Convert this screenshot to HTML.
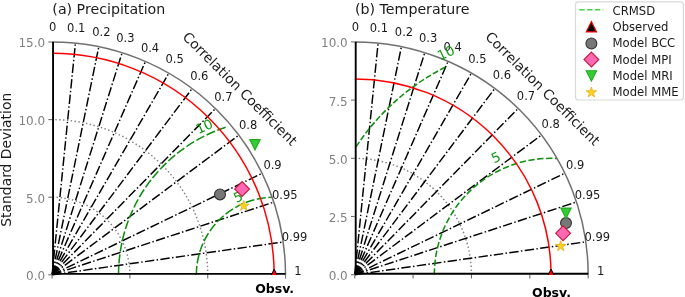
<!DOCTYPE html>
<html><head><meta charset="utf-8"><title>Taylor diagrams</title>
<style>html,body{margin:0;padding:0;background:#fff;width:685px;height:297px;overflow:hidden}</style>
</head><body>
<svg width="685" height="297" viewBox="0 0 685 297" style="display:block">
<g font-family="'DejaVu Sans', 'Liberation Sans', sans-serif">
<rect width="685" height="297" fill="#fff"/>
<text x="52.35" y="13.6" font-size="14.2" fill="#1a1a1a">(a) Precipitation</text>
<path d="M129.9,274.8 A77.8,77.6 0 0 0 52.1,197.2" fill="none" stroke="#808080" stroke-width="1.47" stroke-dasharray="1.46,2.4"/>
<path d="M207.7,274.8 A155.6,155.2 0 0 0 52.1,119.6" fill="none" stroke="#808080" stroke-width="1.47" stroke-dasharray="1.46,2.4"/>
<line x1="52.1" y1="274.8" x2="75.44" y2="43.17" stroke="#000" stroke-width="1.47" stroke-dasharray="9.41,2.35,1.47,2.35" stroke-dashoffset="-0.3"/>
<line x1="52.1" y1="274.8" x2="98.78" y2="46.7" stroke="#000" stroke-width="1.47" stroke-dasharray="9.41,2.35,1.47,2.35" stroke-dashoffset="-0.3"/>
<line x1="52.1" y1="274.8" x2="122.12" y2="52.72" stroke="#000" stroke-width="1.47" stroke-dasharray="9.41,2.35,1.47,2.35" stroke-dashoffset="-0.3"/>
<line x1="52.1" y1="274.8" x2="145.46" y2="61.44" stroke="#000" stroke-width="1.47" stroke-dasharray="9.41,2.35,1.47,2.35" stroke-dashoffset="-0.3"/>
<line x1="52.1" y1="274.8" x2="168.8" y2="73.19" stroke="#000" stroke-width="1.47" stroke-dasharray="9.41,2.35,1.47,2.35" stroke-dashoffset="-0.3"/>
<line x1="52.1" y1="274.8" x2="192.14" y2="88.56" stroke="#000" stroke-width="1.47" stroke-dasharray="9.41,2.35,1.47,2.35" stroke-dashoffset="-0.3"/>
<line x1="52.1" y1="274.8" x2="215.48" y2="108.55" stroke="#000" stroke-width="1.47" stroke-dasharray="9.41,2.35,1.47,2.35" stroke-dashoffset="-0.3"/>
<line x1="52.1" y1="274.8" x2="238.82" y2="135.12" stroke="#000" stroke-width="1.47" stroke-dasharray="9.41,2.35,1.47,2.35" stroke-dashoffset="-0.3"/>
<line x1="52.1" y1="274.8" x2="262.16" y2="173.32" stroke="#000" stroke-width="1.47" stroke-dasharray="9.41,2.35,1.47,2.35" stroke-dashoffset="-0.3"/>
<line x1="52.1" y1="274.8" x2="273.84" y2="202.11" stroke="#000" stroke-width="1.47" stroke-dasharray="9.41,2.35,1.47,2.35" stroke-dashoffset="-0.3"/>
<line x1="52.1" y1="274.8" x2="283.17" y2="241.96" stroke="#000" stroke-width="1.47" stroke-dasharray="9.41,2.35,1.47,2.35" stroke-dashoffset="-0.3"/>
<path d="M196.34,274.8 A77.8,77.6 0 0 1 272.17,197.23" fill="none" stroke="#0f8f0f" stroke-width="1.55" stroke-dasharray="9,2.6"/>
<path d="M118.54,274.8 A155.6,155.2 0 0 1 226.1,127.19" fill="none" stroke="#0f8f0f" stroke-width="1.55" stroke-dasharray="9,2.6"/>
<path d="M274.15,274.8 A222.05,221.47 0 0 0 52.1,53.33" fill="none" stroke="#ff0000" stroke-width="1.5"/>
<path d="M285.51,274.8 A233.41,232.8 0 0 0 52.1,42" fill="none" stroke="#707070" stroke-width="1.5"/>
<line x1="48.3" y1="274.8" x2="52.1" y2="274.8" stroke="#707070" stroke-width="1.1"/>
<line x1="52.1" y1="274.8" x2="52.1" y2="278.6" stroke="#707070" stroke-width="1.1"/>
<line x1="48.3" y1="197.2" x2="52.1" y2="197.2" stroke="#707070" stroke-width="1.1"/>
<line x1="129.9" y1="274.8" x2="129.9" y2="278.6" stroke="#707070" stroke-width="1.1"/>
<line x1="48.3" y1="119.6" x2="52.1" y2="119.6" stroke="#707070" stroke-width="1.1"/>
<line x1="207.7" y1="274.8" x2="207.7" y2="278.6" stroke="#707070" stroke-width="1.1"/>
<line x1="48.3" y1="42" x2="52.1" y2="42" stroke="#707070" stroke-width="1.1"/>
<line x1="285.51" y1="274.8" x2="285.51" y2="278.6" stroke="#707070" stroke-width="1.1"/>
<line x1="53.05" y1="273.85" x2="53.05" y2="42" stroke="#000" stroke-width="1.9"/>
<line x1="53.05" y1="273.85" x2="285.51" y2="273.85" stroke="#000" stroke-width="1.9"/>
<rect x="52.1" y="272.9" width="1.9" height="1.9" fill="#000"/>
<clipPath id="pao"><rect x="0" y="0" width="685" height="275.1"/></clipPath>
<polygon clip-path="url(#pao)" points="268.55,280.4 279.75,280.4 274.15,269.2" fill="#ff0000" stroke="#000" stroke-width="1"/>
<text x="45.1" y="280.27" font-size="12.0" fill="#808080" text-anchor="end">0.0</text>
<text x="45.1" y="202.67" font-size="12.0" fill="#808080" text-anchor="end">5.0</text>
<text x="45.1" y="125.07" font-size="12.0" fill="#808080" text-anchor="end">10.0</text>
<text x="45.1" y="47.47" font-size="12.0" fill="#808080" text-anchor="end">15.0</text>
<text x="52.71" y="30.95" font-size="11.5" fill="#1a1a1a" text-anchor="middle">0</text>
<text x="76.27" y="31.85" font-size="11.5" fill="#1a1a1a" text-anchor="middle">0.1</text>
<text x="101.32" y="35.95" font-size="11.5" fill="#1a1a1a" text-anchor="middle">0.2</text>
<text x="125.44" y="42.2" font-size="11.5" fill="#1a1a1a" text-anchor="middle">0.3</text>
<text x="150.04" y="51.5" font-size="11.5" fill="#1a1a1a" text-anchor="middle">0.4</text>
<text x="174.69" y="63.3" font-size="11.5" fill="#1a1a1a" text-anchor="middle">0.5</text>
<text x="199.29" y="79.5" font-size="11.5" fill="#1a1a1a" text-anchor="middle">0.6</text>
<text x="223.32" y="100.5" font-size="11.5" fill="#1a1a1a" text-anchor="middle">0.7</text>
<text x="248.12" y="128.55" font-size="11.5" fill="#1a1a1a" text-anchor="middle">0.8</text>
<text x="272.54" y="168.7" font-size="11.5" fill="#1a1a1a" text-anchor="middle">0.9</text>
<text x="284.83" y="198.95" font-size="11.5" fill="#1a1a1a" text-anchor="middle">0.95</text>
<text x="294.58" y="240.6" font-size="11.5" fill="#1a1a1a" text-anchor="middle">0.99</text>
<text x="297.91" y="275.1" font-size="11.5" fill="#1a1a1a" text-anchor="middle">1</text>
<text transform="translate(238,196.6) rotate(-25)" y="4.92" font-size="13.5" fill="#119911" text-anchor="middle">5</text>
<text transform="translate(204.2,126.2) rotate(-25)" y="4.92" font-size="13.5" fill="#119911" text-anchor="middle">10</text>
<text transform="translate(239.9,88.85) rotate(44.8)" y="4.6" font-size="13.8" fill="#1a1a1a" text-anchor="middle">Correlation Coefficient</text>
<circle cx="220" cy="194.4" r="5.45" fill="#777777" stroke="#333333" stroke-width="1.1"/>
<polygon points="242.1,181.6 249.5,189 242.1,196.4 234.7,189" fill="#ff69b4" stroke="#c8173c" stroke-width="1.1"/>
<polygon points="249.8,139.6 260.2,139.6 255,150" fill="#33cc33" stroke="#22aa22" stroke-width="1.1"/>
<polygon points="243.8,200.4 242.57,204.2 238.57,204.2 241.8,206.55 240.57,210.35 243.8,208 247.03,210.35 245.8,206.55 249.03,204.2 245.03,204.2" fill="#ffd21f" stroke="#e6b422" stroke-width="0.9"/>
<text x="274.6" y="292.5" font-size="12.5" font-weight="bold" fill="#000" text-anchor="middle">Obsv.</text>
<text x="355" y="13.6" font-size="14.2" fill="#1a1a1a">(b) Temperature</text>
<path d="M471.45,274.7 A116.7,116.4 0 0 0 354.75,158.3" fill="none" stroke="#808080" stroke-width="1.47" stroke-dasharray="1.46,2.4"/>
<line x1="354.75" y1="274.7" x2="378.09" y2="43.07" stroke="#000" stroke-width="1.47" stroke-dasharray="9.41,2.35,1.47,2.35" stroke-dashoffset="-0.3"/>
<line x1="354.75" y1="274.7" x2="401.43" y2="46.6" stroke="#000" stroke-width="1.47" stroke-dasharray="9.41,2.35,1.47,2.35" stroke-dashoffset="-0.3"/>
<line x1="354.75" y1="274.7" x2="424.77" y2="52.62" stroke="#000" stroke-width="1.47" stroke-dasharray="9.41,2.35,1.47,2.35" stroke-dashoffset="-0.3"/>
<line x1="354.75" y1="274.7" x2="448.11" y2="61.34" stroke="#000" stroke-width="1.47" stroke-dasharray="9.41,2.35,1.47,2.35" stroke-dashoffset="-0.3"/>
<line x1="354.75" y1="274.7" x2="471.45" y2="73.09" stroke="#000" stroke-width="1.47" stroke-dasharray="9.41,2.35,1.47,2.35" stroke-dashoffset="-0.3"/>
<line x1="354.75" y1="274.7" x2="494.79" y2="88.46" stroke="#000" stroke-width="1.47" stroke-dasharray="9.41,2.35,1.47,2.35" stroke-dashoffset="-0.3"/>
<line x1="354.75" y1="274.7" x2="518.13" y2="108.45" stroke="#000" stroke-width="1.47" stroke-dasharray="9.41,2.35,1.47,2.35" stroke-dashoffset="-0.3"/>
<line x1="354.75" y1="274.7" x2="541.47" y2="135.02" stroke="#000" stroke-width="1.47" stroke-dasharray="9.41,2.35,1.47,2.35" stroke-dashoffset="-0.3"/>
<line x1="354.75" y1="274.7" x2="564.81" y2="173.22" stroke="#000" stroke-width="1.47" stroke-dasharray="9.41,2.35,1.47,2.35" stroke-dashoffset="-0.3"/>
<line x1="354.75" y1="274.7" x2="576.49" y2="202.01" stroke="#000" stroke-width="1.47" stroke-dasharray="9.41,2.35,1.47,2.35" stroke-dashoffset="-0.3"/>
<line x1="354.75" y1="274.7" x2="585.82" y2="241.86" stroke="#000" stroke-width="1.47" stroke-dasharray="9.41,2.35,1.47,2.35" stroke-dashoffset="-0.3"/>
<path d="M434.34,274.7 A116.7,116.4 0 0 1 556.97,158.45" fill="none" stroke="#0f8f0f" stroke-width="1.55" stroke-dasharray="6.35,2.55"/>
<path d="M356.1,146.68 A233.41,232.8 0 0 1 446.64,66.49" fill="none" stroke="#0f8f0f" stroke-width="1.55" stroke-dasharray="5.9,2.3"/>
<path d="M551.04,274.7 A196.29,195.78 0 0 0 354.75,78.92" fill="none" stroke="#ff0000" stroke-width="1.5"/>
<path d="M588.16,274.7 A233.41,232.8 0 0 0 354.75,41.9" fill="none" stroke="#707070" stroke-width="1.5"/>
<line x1="350.95" y1="274.7" x2="354.75" y2="274.7" stroke="#707070" stroke-width="1.1"/>
<line x1="354.75" y1="274.7" x2="354.75" y2="278.5" stroke="#707070" stroke-width="1.1"/>
<line x1="350.95" y1="216.5" x2="354.75" y2="216.5" stroke="#707070" stroke-width="1.1"/>
<line x1="413.1" y1="274.7" x2="413.1" y2="278.5" stroke="#707070" stroke-width="1.1"/>
<line x1="350.95" y1="158.3" x2="354.75" y2="158.3" stroke="#707070" stroke-width="1.1"/>
<line x1="471.45" y1="274.7" x2="471.45" y2="278.5" stroke="#707070" stroke-width="1.1"/>
<line x1="350.95" y1="100.1" x2="354.75" y2="100.1" stroke="#707070" stroke-width="1.1"/>
<line x1="529.8" y1="274.7" x2="529.8" y2="278.5" stroke="#707070" stroke-width="1.1"/>
<line x1="350.95" y1="41.9" x2="354.75" y2="41.9" stroke="#707070" stroke-width="1.1"/>
<line x1="588.16" y1="274.7" x2="588.16" y2="278.5" stroke="#707070" stroke-width="1.1"/>
<line x1="355.7" y1="273.75" x2="355.7" y2="41.9" stroke="#000" stroke-width="1.9"/>
<line x1="355.7" y1="273.75" x2="588.16" y2="273.75" stroke="#000" stroke-width="1.9"/>
<rect x="354.75" y="272.8" width="1.9" height="1.9" fill="#000"/>
<clipPath id="pbo"><rect x="0" y="0" width="685" height="275"/></clipPath>
<polygon clip-path="url(#pbo)" points="545.44,280.3 556.64,280.3 551.04,269.1" fill="#ff0000" stroke="#000" stroke-width="1"/>
<text x="347.75" y="280.17" font-size="12.0" fill="#808080" text-anchor="end">0.0</text>
<text x="347.75" y="221.97" font-size="12.0" fill="#808080" text-anchor="end">2.5</text>
<text x="347.75" y="163.77" font-size="12.0" fill="#808080" text-anchor="end">5.0</text>
<text x="347.75" y="105.57" font-size="12.0" fill="#808080" text-anchor="end">7.5</text>
<text x="347.75" y="47.37" font-size="12.0" fill="#808080" text-anchor="end">10.0</text>
<text x="355.36" y="30.85" font-size="11.5" fill="#1a1a1a" text-anchor="middle">0</text>
<text x="378.92" y="31.75" font-size="11.5" fill="#1a1a1a" text-anchor="middle">0.1</text>
<text x="403.97" y="35.85" font-size="11.5" fill="#1a1a1a" text-anchor="middle">0.2</text>
<text x="428.09" y="42.1" font-size="11.5" fill="#1a1a1a" text-anchor="middle">0.3</text>
<text x="452.69" y="51.4" font-size="11.5" fill="#1a1a1a" text-anchor="middle">0.4</text>
<text x="477.34" y="63.2" font-size="11.5" fill="#1a1a1a" text-anchor="middle">0.5</text>
<text x="501.94" y="79.4" font-size="11.5" fill="#1a1a1a" text-anchor="middle">0.6</text>
<text x="525.97" y="100.4" font-size="11.5" fill="#1a1a1a" text-anchor="middle">0.7</text>
<text x="550.77" y="128.45" font-size="11.5" fill="#1a1a1a" text-anchor="middle">0.8</text>
<text x="575.19" y="168.6" font-size="11.5" fill="#1a1a1a" text-anchor="middle">0.9</text>
<text x="587.48" y="198.85" font-size="11.5" fill="#1a1a1a" text-anchor="middle">0.95</text>
<text x="597.23" y="240.5" font-size="11.5" fill="#1a1a1a" text-anchor="middle">0.99</text>
<text x="600.56" y="275" font-size="11.5" fill="#1a1a1a" text-anchor="middle">1</text>
<text transform="translate(495.7,157.3) rotate(-25)" y="4.92" font-size="13.5" fill="#119911" text-anchor="middle">5</text>
<text transform="translate(445.8,52.7) rotate(-25)" y="4.92" font-size="13.5" fill="#119911" text-anchor="middle">10</text>
<text transform="translate(542.55,88.75) rotate(44.8)" y="4.6" font-size="13.8" fill="#1a1a1a" text-anchor="middle">Correlation Coefficient</text>
<circle cx="566" cy="223.1" r="5.45" fill="#777777" stroke="#333333" stroke-width="1.1"/>
<polygon points="563.1,225.9 570.5,233.3 563.1,240.7 555.7,233.3" fill="#ff69b4" stroke="#c8173c" stroke-width="1.1"/>
<polygon points="560.8,208.1 571.2,208.1 566,218.5" fill="#33cc33" stroke="#22aa22" stroke-width="1.1"/>
<polygon points="560.7,240.7 559.47,244.5 555.47,244.5 558.7,246.85 557.47,250.65 560.7,248.3 563.93,250.65 562.7,246.85 565.93,244.5 561.93,244.5" fill="#ffd21f" stroke="#e6b422" stroke-width="0.9"/>
<text x="551.49" y="297.1" font-size="12.5" font-weight="bold" fill="#000" text-anchor="middle">Obsv.</text>
<text transform="translate(10.6,159.75) rotate(-90)" font-size="13.89" fill="#1a1a1a" text-anchor="middle">Standard Deviation</text>
<rect x="575.5" y="1.8" width="107.9" height="98.2" rx="3" fill="#fff" stroke="#d9d9d9" stroke-width="1.2"/>
<line x1="579.3" y1="9.8" x2="603.2" y2="9.8" stroke="#44d444" stroke-width="1.5" stroke-dasharray="5.44,2.35"/>
<polygon points="586.2,31.9 596.6,31.9 591.4,21.5" fill="#000000" stroke="#ff0000" stroke-width="1.1"/>
<circle cx="591.4" cy="43.5" r="5.45" fill="#777777" stroke="#333333" stroke-width="1.1"/>
<polygon points="591.4,52.1 598.8,59.5 591.4,66.9 584,59.5" fill="#ff69b4" stroke="#c8173c" stroke-width="1.1"/>
<polygon points="586.2,70.7 596.6,70.7 591.4,81.1" fill="#33cc33" stroke="#22aa22" stroke-width="1.1"/>
<polygon points="591.4,87 590.17,90.8 586.17,90.8 589.4,93.15 588.17,96.95 591.4,94.6 594.63,96.95 593.4,93.15 596.63,90.8 592.63,90.8" fill="#ffd21f" stroke="#e6b422" stroke-width="0.9"/>
<text x="612.5" y="14.7" font-size="11.65" fill="#1a1a1a">CRMSD</text>
<text x="612.5" y="30.98" font-size="11.65" fill="#1a1a1a">Observed</text>
<text x="612.5" y="47.26" font-size="11.65" fill="#1a1a1a">Model BCC</text>
<text x="612.5" y="63.54" font-size="11.65" fill="#1a1a1a">Model MPI</text>
<text x="612.5" y="79.82" font-size="11.65" fill="#1a1a1a">Model MRI</text>
<text x="612.5" y="96.1" font-size="11.65" fill="#1a1a1a">Model MME</text>
</g></svg>
</body></html>
